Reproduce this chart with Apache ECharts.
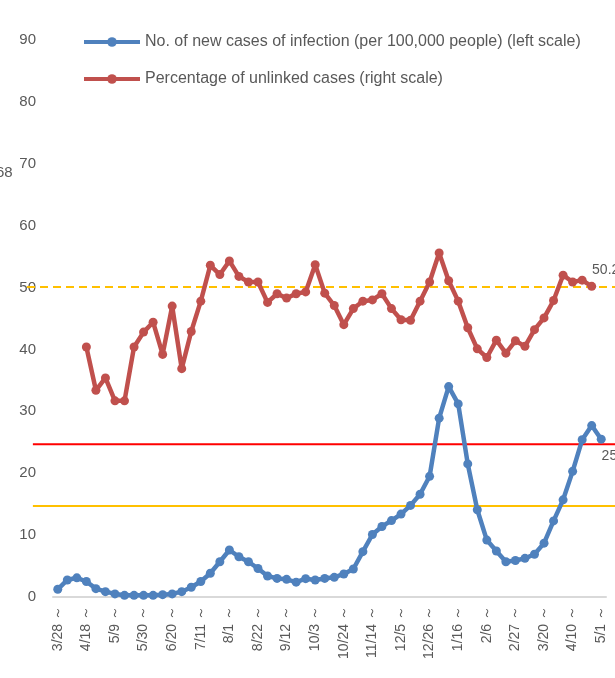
<!DOCTYPE html>
<html>
<head>
    <meta charset="utf-8">
    <title>new cases and unlinked cases</title>
    <script type="text/javascript" src="https://cdn.jsdelivr.net/npm/echarts@6/dist/echarts.min.js"></script>
    <style>
        html, body { margin: 0; padding: 0; background: #fff; }
    </style>
</head>
<body>
<div id="chart" style="width:615px;height:678px;"></div>

<script type="text/javascript">
    // weekly start dates
    var weeks = ['3/28', '4/4', '4/11', '4/18', '4/25', '5/2', '5/9', '5/16', '5/23', '5/30',
        '6/6', '6/13', '6/20', '6/27', '7/4', '7/11', '7/18', '7/25', '8/1', '8/8',
        '8/15', '8/22', '8/29', '9/5', '9/12', '9/19', '9/26', '10/3', '10/10', '10/17',
        '10/24', '10/31', '11/7', '11/14', '11/21', '11/28', '12/5', '12/12', '12/19', '12/26',
        '1/2', '1/9', '1/16', '1/23', '1/30', '2/6', '2/13', '2/20', '2/27', '3/6',
        '3/13', '3/20', '3/27', '4/3', '4/10', '4/17', '4/24', '5/1'];

    // new cases per 100,000 (left scale)
    var newCases = [1.25, 2.75, 3.1, 2.5, 1.35, 0.86, 0.5, 0.27, 0.27, 0.27,
        0.27, 0.38, 0.5, 0.86, 1.57, 2.5, 3.83, 5.7, 7.6, 6.5,
        5.7, 4.6, 3.4, 3.0, 2.85, 2.4, 2.96, 2.75, 3.0, 3.18,
        3.72, 4.53, 7.33, 10.1, 11.4, 12.35, 13.4, 14.8, 16.6, 19.5,
        28.9, 34.0, 31.2, 21.5, 14.1, 9.2, 7.44, 5.7, 5.9, 6.25,
        6.9, 8.7, 12.3, 15.7, 20.3, 25.4, 27.7, 25.5];

    // percentage of unlinked cases (right scale)
    var unlinked = [null, null, null, 40.4, 33.4, 35.4, 31.7, 31.7, 40.4, 42.8,
        44.4, 39.2, 47.0, 36.9, 42.9, 47.8, 53.6, 52.1, 54.3, 51.8,
        50.9, 50.9, 47.6, 49.0, 48.3, 49.0, 49.3, 53.7, 49.1, 47.1,
        44.0, 46.6, 47.8, 48.0, 49.0, 46.6, 44.8, 44.7, 47.8, 50.9,
        55.6, 51.1, 47.8, 43.5, 40.1, 38.7, 41.5, 39.4, 41.4, 40.5,
        43.2, 45.1, 47.9, 52.0, 50.9, 51.2, 50.2, null];

    var redLevel = 24.7;
    var yellowLevel = 14.7;
    var unlinkedAvg = 50.1;

    var gray = '#595959';
    var font = '"Liberation Sans", Arial, sans-serif';

    var myChart = echarts.init(document.getElementById('chart'));

    // put a value label on the last point only
    function lastLabel(arr, pos, offset) {
        var out = [];
        var last = -1;
        for (var i = 0; i < arr.length; i++) {
            if (arr[i] != null) last = i;
        }
        for (var j = 0; j < arr.length; j++) {
            if (j === last) {
                out.push({value: arr[j], label: {show: true, position: pos, offset: offset,
                    color: gray, fontSize: 14, fontFamily: font,
                    formatter: function (p) { return p.value.toFixed(1); }}});
            } else {
                out.push(arr[j]);
            }
        }
        return out;
    }

    // level lines reach further left than the plot, so they sit on a second grid
    function flat(v, x0) {
        return [[x0, v], [100, v]];
    }

    var option = {
        animation: false,
        backgroundColor: '#fff',
        textStyle: {fontFamily: font},
        legend: {
            orient: 'vertical',
            left: 77,
            top: 29,
            itemWidth: 56,
            itemHeight: 12,
            itemGap: 21,
            lineStyle: {width: 4},
            textStyle: {color: gray, fontSize: 16, fontFamily: font},
            data: ['No. of new cases of infection (per 100,000 people) (left scale)',
                'Percentage of unlinked cases (right scale)']
        },
        grid: [
            {left: 53, right: 9, top: 40, bottom: 81},
            {left: 27, right: 0, top: 40, bottom: 81}
        ],
        xAxis: [
            {
                type: 'category',
                gridIndex: 0,
                data: weeks,
                boundaryGap: true,
                axisLine: {lineStyle: {color: '#d9d9d9', width: 2}},
                axisTick: {show: false},
                axisLabel: {
                    interval: 2,
                    rotate: 90,
                    margin: 9,
                    color: gray,
                    fontSize: 14,
                    fontFamily: font,
                    formatter: function (v) { return v + ' ～'; }
                }
            },
            {
                type: 'value',
                gridIndex: 1,
                min: 0,
                max: 100,
                show: false
            }
        ],
        yAxis: [
            {
                type: 'value',
                gridIndex: 0,
                min: 0,
                max: 90,
                interval: 10,
                axisLine: {show: false},
                axisTick: {show: false},
                splitLine: {show: false},
                axisLabel: {color: gray, fontSize: 15, fontFamily: font, margin: 17}
            },
            {
                type: 'value',
                gridIndex: 0,
                min: 0,
                max: 90,
                interval: 10,
                position: 'right',
                show: false
            },
            {
                type: 'value',
                gridIndex: 1,
                min: 0,
                max: 90,
                show: false
            }
        ],
        graphic: [
            {type: 'text', left: -4, top: 165, style: {text: '68', fill: gray, fontSize: 15, fontFamily: font}}
        ],
        series: [
            {
                name: 'level-red',
                type: 'line',
                xAxisIndex: 1,
                yAxisIndex: 2,
                data: flat(redLevel, 1),
                symbol: 'none',
                lineStyle: {color: '#ff0000', width: 2},
                silent: true,
                z: 1
            },
            {
                name: 'level-yellow',
                type: 'line',
                xAxisIndex: 1,
                yAxisIndex: 2,
                data: flat(yellowLevel, 1),
                symbol: 'none',
                lineStyle: {color: '#ffc000', width: 2},
                silent: true,
                z: 1
            },
            {
                name: 'level-avg',
                type: 'line',
                xAxisIndex: 1,
                yAxisIndex: 2,
                data: flat(unlinkedAvg, 0),
                symbol: 'none',
                lineStyle: {color: '#ffc000', width: 2, type: [8, 5]},
                silent: true,
                z: 1
            },
            {
                name: 'No. of new cases of infection (per 100,000 people) (left scale)',
                type: 'line',
                xAxisIndex: 0,
                yAxisIndex: 0,
                data: lastLabel(newCases, 'bottom', [14, 0]),
                symbol: 'circle',
                symbolSize: 9,
                showAllSymbol: true,
                itemStyle: {color: '#4f81bd'},
                lineStyle: {color: '#4f81bd', width: 4.5},
                z: 3
            },
            {
                name: 'Percentage of unlinked cases (right scale)',
                type: 'line',
                xAxisIndex: 0,
                yAxisIndex: 1,
                data: lastLabel(unlinked, 'top', [14, 0]),
                symbol: 'circle',
                symbolSize: 9,
                showAllSymbol: true,
                itemStyle: {color: '#c0504d'},
                lineStyle: {color: '#c0504d', width: 4.5},
                z: 3
            }
        ]
    };
    myChart.setOption(option);
</script>
</body>
</html>
